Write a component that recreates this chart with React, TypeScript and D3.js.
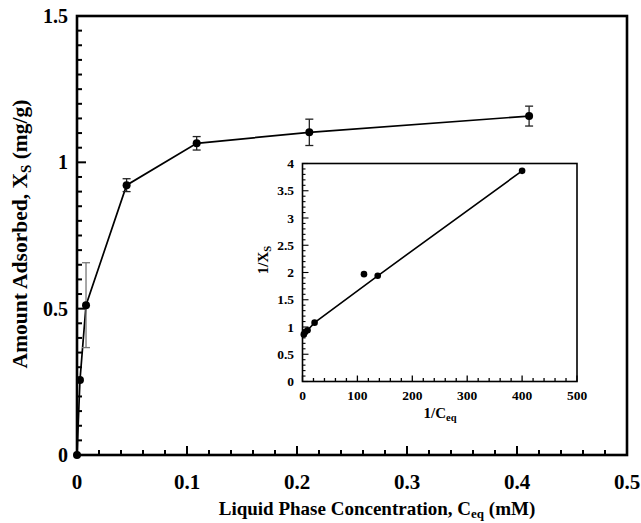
import React from "react";
import * as d3 from "d3";

// main isotherm data (C_eq in mM, X_S in mg/g)
const ceq = [0, 0.0027, 0.0082, 0.0451, 0.1088, 0.2112, 0.411];
const xs = [0, 0.256, 0.512, 0.922, 1.065, 1.1025, 1.158];
const xsErr = [0, 0, 0.145, 0.022, 0.023, 0.045, 0.034];

// inset: linearised plot
const invC = [2.4, 4.7, 9.2, 22, 112, 137, 400];
const invX = [0.864, 0.907, 0.94, 1.08, 1.97, 1.94, 3.865];
const fitC = [2.4, 4.7, 9.2, 22, 137, 400];
const fitX = [0.864, 0.907, 0.94, 1.08, 1.94, 3.865];

const mainXTicks = [0, 0.1, 0.2, 0.3, 0.4, 0.5];
const mainYTicks = [0, 0.5, 1, 1.5];
const insetXTicks = [0, 100, 200, 300, 400, 500];
const insetYTicks = [0, 0.5, 1, 1.5, 2, 2.5, 3, 3.5, 4];

const font = "'Liberation Serif', 'Times New Roman', serif";

const App = () => {
  const W = 641;
  const H = 523;

  const x = d3.scaleLinear().domain([0, 0.5]).range([77, 627]);
  const y = d3.scaleLinear().domain([0, 1.5]).range([455, 16]);

  const ix = d3.scaleLinear().domain([0, 500]).range([302.5, 577]);
  const iy = d3.scaleLinear().domain([0, 4]).range([381.5, 163.5]);

  const mainLine = d3
    .line<number>()
    .x((d, i) => x(ceq[i]))
    .y(d => y(d));

  const fitLine = d3
    .line<number>()
    .x((d, i) => ix(fitC[i]))
    .y(d => iy(d));

  const xMinor = d3.range(0, 0.5001, 0.02).map(d => +d.toFixed(3));
  const yMinor = d3.range(0, 1.5001, 0.05).map(d => +d.toFixed(3));
  const ixMinor = d3.range(0, 500.1, 20);
  const iyMinor = d3.range(0, 4.001, 0.1).map(d => +d.toFixed(2));

  return (
    <svg
      width={W}
      height={H}
      style={{ position: "absolute", left: 0, top: 0, background: "#fff" }}
      fontFamily={font}
      fontWeight="bold"
    >
      {/* main frame */}
      <rect
        x={x(0)}
        y={y(1.5)}
        width={x(0.5) - x(0)}
        height={y(0) - y(1.5)}
        fill="none"
        stroke="#000"
        strokeWidth={2.6}
      />
      {/* main ticks */}
      {xMinor.map((d, i) => {
        const major = mainXTicks.some(t => Math.abs(t - d) < 1e-6);
        return (
          <line
            key={"xm" + i}
            x1={x(d)}
            x2={x(d)}
            y1={y(0)}
            y2={y(0) - (major ? 9 : 5)}
            stroke="#000"
            strokeWidth={2}
          />
        );
      })}
      {yMinor.map((d, i) => {
        const major = mainYTicks.some(t => Math.abs(t - d) < 1e-6);
        return (
          <line
            key={"ym" + i}
            x1={x(0)}
            x2={x(0) + (major ? 9 : 5)}
            y1={y(d)}
            y2={y(d)}
            stroke="#000"
            strokeWidth={2}
          />
        );
      })}
      {mainXTicks.map(t => (
        <text key={"xt" + t} x={x(t)} y={489} textAnchor="middle" fontSize={21}>
          {t === 0 ? "0" : t.toFixed(1)}
        </text>
      ))}
      {mainYTicks.map(t => (
        <text key={"yt" + t} x={68} y={y(t) + 7} textAnchor="end" fontSize={20}>
          {t}
        </text>
      ))}
      <text x={377} y={515} textAnchor="middle" fontSize={19}>
        Liquid Phase Concentration, C
        <tspan fontSize={13} dy={3}>eq</tspan>
        <tspan dy={-3}> (mM)</tspan>
      </text>
      <text
        transform={`translate(27,234) rotate(-90)`}
        textAnchor="middle"
        fontSize={21.5}
      >
        Amount Adsorbed, X
        <tspan fontSize={15} dy={4}>S</tspan>
        <tspan dy={-4}> (mg/g)</tspan>
      </text>

      {/* main series */}
      <path d={mainLine(xs) || ""} fill="none" stroke="#000" strokeWidth={1.7} />
      {xs.map((d, i) =>
        xsErr[i] > 0 ? (
          <g key={"e" + i} stroke={i === 2 ? "#777" : "#222"} strokeWidth={1.3}>
            <line x1={x(ceq[i])} x2={x(ceq[i])} y1={y(d - xsErr[i])} y2={y(d + xsErr[i])} />
            <line x1={x(ceq[i]) - 4} x2={x(ceq[i]) + 4} y1={y(d - xsErr[i])} y2={y(d - xsErr[i])} />
            <line x1={x(ceq[i]) - 4} x2={x(ceq[i]) + 4} y1={y(d + xsErr[i])} y2={y(d + xsErr[i])} />
          </g>
        ) : null
      )}
      {xs.map((d, i) => (
        <circle key={"p" + i} cx={x(ceq[i])} cy={y(d)} r={4} fill="#000" />
      ))}

      {/* inset */}
      <rect
        x={ix(0)}
        y={iy(4)}
        width={ix(500) - ix(0)}
        height={iy(0) - iy(4)}
        fill="#fff"
        stroke="#000"
        strokeWidth={1.6}
      />
      {ixMinor.map((d, i) => {
        const major = d % 100 === 0;
        return (
          <line
            key={"ixm" + i}
            x1={ix(d)}
            x2={ix(d)}
            y1={iy(0)}
            y2={iy(0) - (major ? 6 : 3.5)}
            stroke="#000"
            strokeWidth={1.3}
          />
        );
      })}
      {iyMinor.map((d, i) => {
        const major = insetYTicks.some(t => Math.abs(t - d) < 1e-6);
        return (
          <line
            key={"iym" + i}
            x1={ix(0)}
            x2={ix(0) + (major ? 6 : 3)}
            y1={iy(d)}
            y2={iy(d)}
            stroke="#000"
            strokeWidth={1.1}
          />
        );
      })}
      {insetXTicks.map(t => (
        <text key={"ixt" + t} x={ix(t)} y={400} textAnchor="middle" fontSize={13.5}>
          {t}
        </text>
      ))}
      {insetYTicks.map(t => (
        <text key={"iyt" + t} x={294} y={iy(t) + 4.5} textAnchor="end" fontSize={13.5}>
          {t}
        </text>
      ))}
      <text x={440} y={418} textAnchor="middle" fontSize={15}>
        1/C
        <tspan fontSize={10.5} dy={3}>eq</tspan>
      </text>
      <text transform={`translate(268,260) rotate(-90)`} textAnchor="middle" fontSize={15}>
        1/X
        <tspan fontSize={10.5} dy={3}>S</tspan>
      </text>
      <path d={fitLine(fitX) || ""} fill="none" stroke="#000" strokeWidth={1.6} />
      {invX.map((d, i) => (
        <circle key={"ip" + i} cx={ix(invC[i])} cy={iy(d)} r={3.3} fill="#000" />
      ))}
    </svg>
  );
};

export default App;
